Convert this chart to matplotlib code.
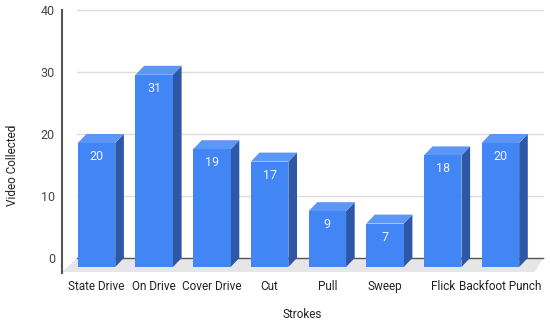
import matplotlib
matplotlib.use('Agg')
import matplotlib.pyplot as plt
from matplotlib.patches import Polygon

# chart data
strokes = ['State Drive', 'On Drive', 'Cover Drive', 'Cut', 'Pull', 'Sweep', 'Flick', 'Backfoot Punch']
videos = [20, 31, 19, 17, 9, 7, 18, 20]
y_ticks = [0, 10, 20, 30, 40]

plt.rcParams['font.family'] = ['Roboto', 'DejaVu Sans']

front_color = '#4285f4'
top_color = '#5c96f6'
side_color = '#2d58a8'

bar_w = 0.65     # width of the front face, in category units
dx = 0.15        # depth offset (x, category units)
dy = 1.45        # depth offset (y, value units)

fig = plt.figure(figsize=(5.5, 3.26), dpi=100)
ax = fig.add_axes([62 / 550, 53 / 326, 483 / 550, 263 / 326])
ax.set_xlim(-0.598, 7.773)
ax.set_ylim(-2.42, 40.0)

# floor
x_lo, x_hi = -0.334, 7.738
floor = Polygon([(x_lo, 0), (x_hi, 0), (x_hi - 0.14, -2.26), (-0.598, -2.26)],
                closed=True, facecolor='#e6e6e6', edgecolor='none', zorder=1)
ax.add_patch(floor)

# grid lines on the back wall
for t in y_ticks:
    if t == 0:
        ax.plot([x_lo, x_hi], [t, t], color='#555555', lw=1.0, zorder=2, clip_on=False)
    else:
        ax.plot([x_lo, x_hi], [t, t], color='#dddddd', lw=1.0, zorder=2, clip_on=False)

# 3D looking bars
for i, v in enumerate(videos):
    l = i - bar_w / 2
    r = i + bar_w / 2
    front = Polygon([(l, -dy), (r, -dy), (r, v - dy), (l, v - dy)],
                    facecolor=front_color, edgecolor='none', zorder=4)
    side = Polygon([(r, -dy), (r + dx, 0), (r + dx, v), (r, v - dy)],
                   facecolor=side_color, edgecolor='none', zorder=3)
    top = Polygon([(l, v - dy), (r, v - dy), (r + dx, v), (l + dx, v)],
                  facecolor=top_color, edgecolor='none', zorder=3)
    ax.add_patch(side)
    ax.add_patch(top)
    ax.add_patch(front)
    ax.annotate(str(v), (i, v - dy), xytext=(0, -5), textcoords='offset points',
                ha='center', va='top', color='#eef3fd', fontsize=9, zorder=5)

for s in ['top', 'right', 'bottom']:
    ax.spines[s].set_visible(False)
ax.spines['left'].set_color('#555555')
ax.spines['left'].set_linewidth(1.5)

ax.set_yticks(y_ticks)
ax.set_yticklabels([str(t) for t in y_ticks])
ax.set_xticks(range(len(strokes)))
ax.set_xticklabels(strokes)
ax.tick_params(axis='y', length=0, pad=5, labelsize=9, labelcolor='#444444')
ax.tick_params(axis='x', length=0, pad=5, labelsize=8.5, labelcolor='#222222')

fig.text(302 / 550, 1 - 315 / 326, 'Strokes', ha='center', va='center', fontsize=8.5, color='#222222')
fig.text(12 / 550, 1 - 165 / 326, 'Video Collected', ha='center', va='center',
         rotation=90, fontsize=8.5, color='#222222')

plt.savefig('out.png', dpi=100)
plt.close()
